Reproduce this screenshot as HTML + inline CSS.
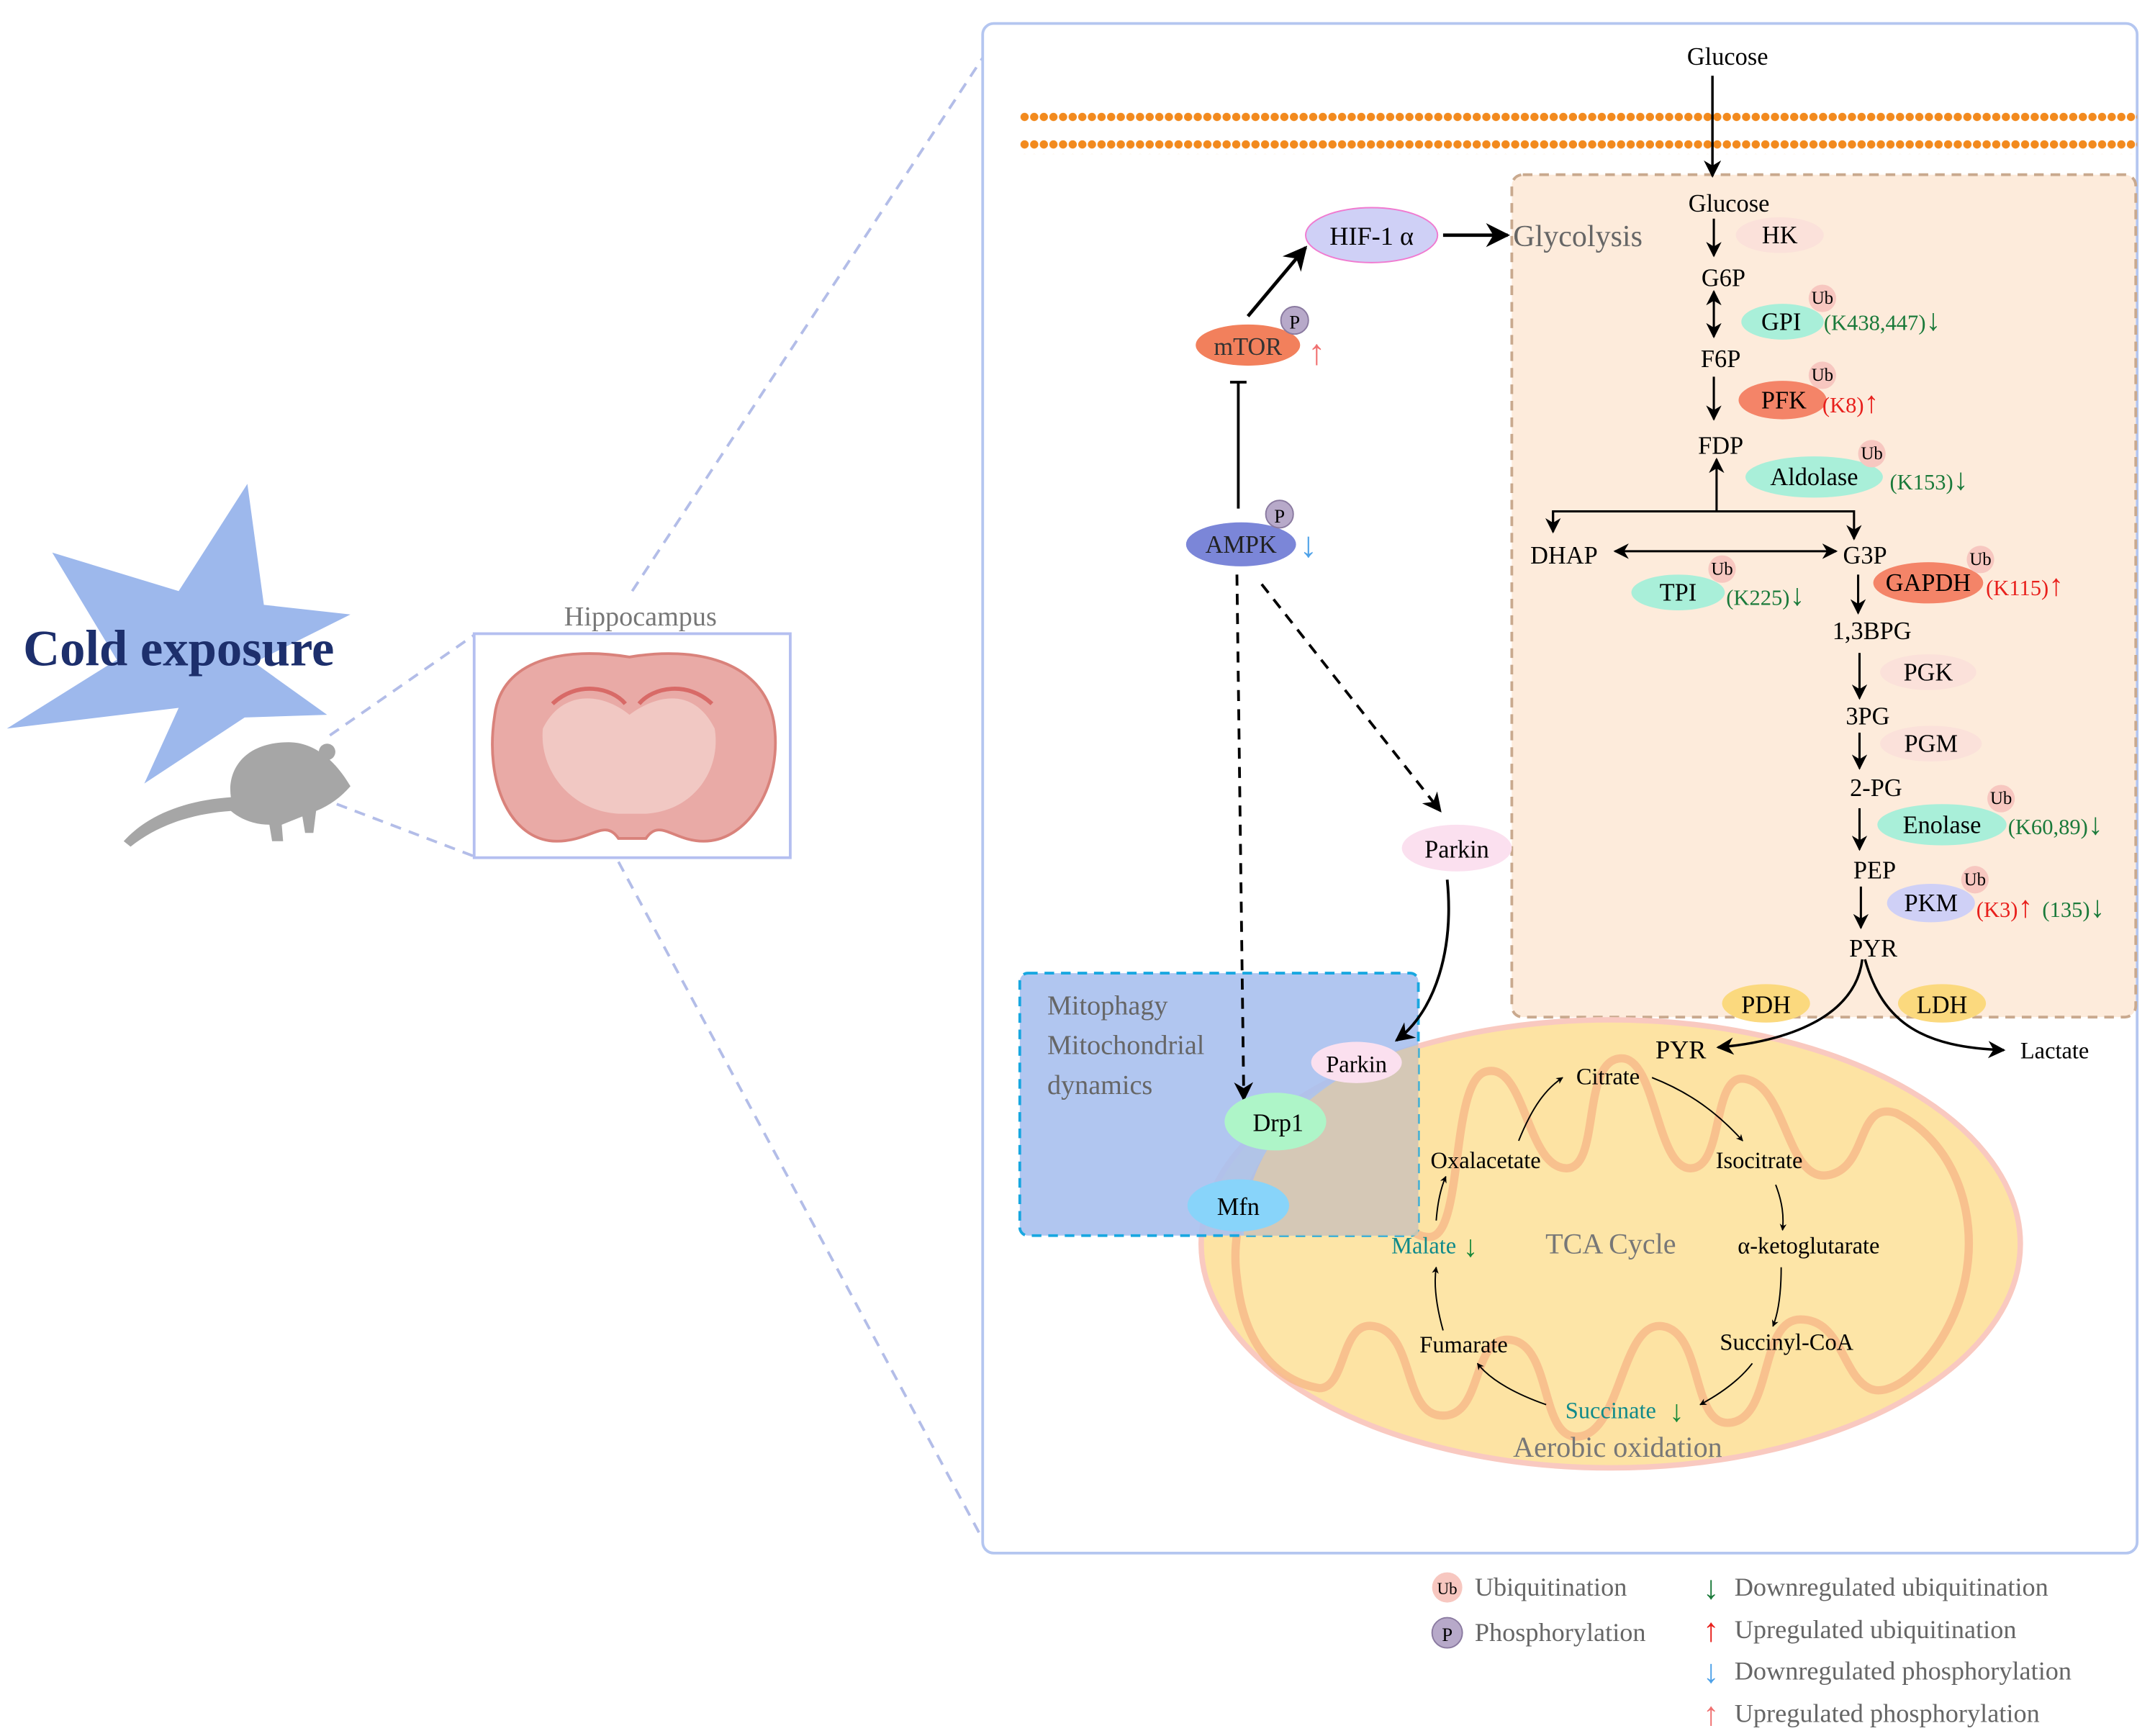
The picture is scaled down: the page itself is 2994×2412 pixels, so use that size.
<!DOCTYPE html>
<html><head><meta charset="utf-8"><style>
html,body{margin:0;padding:0;background:#fff}
svg{display:block}
text{font-family:"Liberation Serif",serif}
</style></head><body>
<svg width="2994" height="2412" viewBox="0 0 1568 1263" xmlns="http://www.w3.org/2000/svg">
<defs>
<marker id="ah" viewBox="0 0 10 10" refX="9" refY="5" markerWidth="7" markerHeight="7" orient="auto-start-reverse"><path d="M0,0 L10,5 L0,10 L3,5 z" fill="#000"/></marker>
<marker id="as" viewBox="0 0 10 10" refX="9" refY="5" markerWidth="5" markerHeight="5" orient="auto-start-reverse"><path d="M0,0 L10,5 L0,10 L3,5 z" fill="#000"/></marker>
<pattern id="dots" width="7" height="10" patternUnits="userSpaceOnUse"><circle cx="3.5" cy="5" r="3" fill="#f28a1e"/></pattern>
</defs>

<!-- left side -->
<polygon points="180,352 192,440 255,447 185,482 238,520 178,522 105,570 130,515 5,530 85,480 38,402 130,430" fill="#9db8ec"/>
<text x="130" y="484" font-size="37" font-weight="bold" fill="#1d2f6c" text-anchor="middle">Cold exposure</text>
<path d="M90,612 C110,590 140,582 168,580 C165,560 178,540 210,540 C230,540 245,555 255,572 C248,580 240,586 230,590 L228,606 L222,606 L220,594 L205,600 L206,612 L198,612 L196,600 C185,600 175,596 168,590 C140,592 115,600 95,616 Z" fill="#a6a6a6"/>
<circle cx="238" cy="547" r="6" fill="#a6a6a6"/>
<line x1="240" y1="535" x2="345" y2="462" stroke="#b3bde8" stroke-width="2" stroke-dasharray="8,6"/>
<line x1="245" y1="585" x2="345" y2="623" stroke="#b3bde8" stroke-width="2" stroke-dasharray="8,6"/>
<rect x="345" y="461" width="230" height="163" fill="#fff" stroke="#b4bff0" stroke-width="2"/>
<text x="466" y="455" font-size="20" fill="#777" text-anchor="middle">Hippocampus</text>
<path d="M360,520 C365,480 410,470 458,478 C505,470 555,480 563,525 C570,570 545,612 512,612 C490,612 480,595 470,610 L450,610 C440,595 430,612 405,612 C372,612 352,570 360,520 Z" fill="#e9aaa6" stroke="#d9827b" stroke-width="2"/>
<path d="M395,530 C410,500 440,505 458,520 C478,505 505,500 520,530 C525,560 505,590 470,592 L450,592 C415,590 392,560 395,530 Z" fill="#f1c8c3"/>
<path d="M402,512 C420,495 445,500 455,512 M465,512 C475,500 500,495 518,512" stroke="#d86a67" stroke-width="3" fill="none"/>
<line x1="460" y1="430" x2="715" y2="42" stroke="#b3bde8" stroke-width="2" stroke-dasharray="8,6"/>
<line x1="450" y1="627" x2="715" y2="1120" stroke="#b3bde8" stroke-width="2" stroke-dasharray="8,6"/>

<!-- main frame -->
<rect x="715" y="17" width="840" height="1113" rx="8" fill="#fff" stroke="#b4c6f0" stroke-width="2"/>
<rect x="742" y="80" width="813" height="10" fill="url(#dots)"/>
<rect x="742" y="102" width="813" height="10" fill="url(#dots)"/>

<rect x="1100" y="127" width="454" height="613" rx="8" fill="#fdebdb" stroke="#c9a98e" stroke-width="2" stroke-dasharray="7,5"/>
<text x="1257" y="47" font-size="18" text-anchor="middle">Glucose</text>
<line x1="1246" y1="55" x2="1246" y2="128" stroke="#000" stroke-width="1.8" marker-end="url(#ah)"/>
<text x="1101" y="179" font-size="22" fill="#666">Glycolysis</text>

<ellipse cx="998" cy="171" rx="48" ry="20" fill="#cfd0f6" stroke="#f07ad0" stroke-width="1"/>
<text x="998" y="178" font-size="19" text-anchor="middle">HIF-1 α</text>
<line x1="1050" y1="171" x2="1097" y2="171" stroke="#000" stroke-width="2.5" marker-end="url(#ah)"/>
<line x1="908" y1="230" x2="950" y2="180" stroke="#000" stroke-width="2.5" marker-end="url(#ah)"/>
<ellipse cx="908" cy="251" rx="38" ry="15" fill="#f2805c"/>
<text x="908" y="258" font-size="18" text-anchor="middle" fill="#333">mTOR</text>
<circle cx="942" cy="233" r="10" fill="#b7a9c9" stroke="#8a7aa0"/>
<text x="942" y="239" font-size="14" text-anchor="middle">P</text>
<text x="958" y="265" font-size="26" fill="#f07070" text-anchor="middle">↑</text>
<line x1="901" y1="370" x2="901" y2="278" stroke="#000" stroke-width="2"/>
<line x1="895" y1="278" x2="907" y2="278" stroke="#000" stroke-width="2"/>
<ellipse cx="903" cy="396" rx="40" ry="16" fill="#7b86d8"/>
<text x="903" y="402" font-size="18" text-anchor="middle" fill="#222">AMPK</text>
<circle cx="931" cy="374" r="10" fill="#b7a9c9" stroke="#8a7aa0"/>
<text x="931" y="380" font-size="14" text-anchor="middle">P</text>
<text x="952" y="405" font-size="26" fill="#4fa2e8" text-anchor="middle">↓</text>
<line x1="918" y1="425" x2="1048" y2="590" stroke="#000" stroke-width="2" stroke-dasharray="8,6" marker-end="url(#ah)"/>
<ellipse cx="1060" cy="617" rx="40" ry="17" fill="#fbe0ef"/>
<text x="1060" y="624" font-size="18" text-anchor="middle">Parkin</text>

<!-- mitochondrion -->
<ellipse cx="1172" cy="905" rx="298" ry="163" fill="#fde3a3" stroke="#f9c9c0" stroke-width="4"/>
<path d="M900,930 C890,860 950,800 990,780 L1010,790 C1010,840 1010,900 1040,900 C1065,900 1055,790 1080,780 C1110,770 1110,850 1140,850 C1165,850 1150,770 1180,770 C1205,770 1205,850 1230,850 C1255,850 1245,780 1270,785 C1300,790 1300,860 1330,855 C1360,850 1350,800 1380,810 C1420,830 1440,880 1430,930 C1420,980 1380,1020 1360,1010 C1340,1000 1340,960 1310,960 C1280,960 1290,1030 1260,1035 C1230,1040 1240,970 1210,965 C1180,960 1180,1040 1150,1045 C1120,1050 1130,980 1100,975 C1070,970 1080,1030 1050,1030 C1020,1030 1030,970 1000,965 C975,960 980,1010 960,1010 C930,1005 905,980 900,930 Z" fill="#fee6a8" stroke="#f8b98a" stroke-width="6" opacity="0.8"/>
<rect x="742" y="708" width="290" height="191" rx="6" fill="#a8c0ee" fill-opacity="0.9" stroke="#18a7e0" stroke-width="2" stroke-dasharray="7,5"/>
<path d="M905,899 C905,830 960,780 1032,760 L1032,899 Z" fill="#d9c9b0" opacity="0.9"/>
<text x="762" y="738" font-size="20" fill="#666">Mitophagy</text>
<text x="762" y="767" font-size="20" fill="#666">Mitochondrial</text>
<text x="762" y="796" font-size="20" fill="#666">dynamics</text>
<line x1="900" y1="418" x2="905" y2="800" stroke="#000" stroke-width="2" stroke-dasharray="8,6" marker-end="url(#ah)"/>
<path d="M1053,640 C1058,690 1045,735 1016,757" stroke="#000" stroke-width="2" fill="none" marker-end="url(#ah)"/>
<ellipse cx="987" cy="773" rx="33" ry="15" fill="#fbe0ef"/>
<text x="987" y="780" font-size="17" text-anchor="middle">Parkin</text>
<ellipse cx="928" cy="816" rx="37" ry="21" fill="#aef5c8"/>
<text x="930" y="823" font-size="18" text-anchor="middle">Drp1</text>
<ellipse cx="901" cy="877" rx="37" ry="19" fill="#88d4fa"/>
<text x="901" y="884" font-size="18" text-anchor="middle">Mfn</text>

<!-- TCA -->
<text x="1223" y="770" font-size="19" text-anchor="middle">PYR</text>
<text x="1170" y="789" font-size="17" text-anchor="middle">Citrate</text>
<text x="1280" y="850" font-size="17" text-anchor="middle">Isocitrate</text>
<text x="1316" y="912" font-size="17" text-anchor="middle">α-ketoglutarate</text>
<text x="1300" y="982" font-size="17" text-anchor="middle">Succinyl-CoA</text>
<text x="1172" y="1032" font-size="17" text-anchor="middle" fill="#108a8a">Succinate</text>
<text x="1220" y="1034" font-size="22" fill="#1a8a3a" text-anchor="middle">↓</text>
<text x="1065" y="984" font-size="17" text-anchor="middle">Fumarate</text>
<text x="1036" y="912" font-size="17" text-anchor="middle" fill="#108a8a">Malate</text>
<text x="1070" y="914" font-size="22" fill="#1a8a3a" text-anchor="middle">↓</text>
<text x="1081" y="850" font-size="17" text-anchor="middle">Oxalacetate</text>
<text x="1172" y="912" font-size="21" text-anchor="middle" fill="#777">TCA Cycle</text>
<text x="1177" y="1060" font-size="21" text-anchor="middle" fill="#777">Aerobic oxidation</text>
<g stroke="#000" stroke-width="1" fill="none" marker-end="url(#as)">
<path d="M1105,830 C1115,805 1125,792 1137,784"/>
<path d="M1202,784 C1230,795 1250,810 1268,830"/>
<path d="M1292,862 C1297,875 1298,885 1297,895"/>
<path d="M1296,922 C1296,940 1294,955 1290,965"/>
<path d="M1275,992 C1265,1005 1250,1015 1237,1022"/>
<path d="M1125,1022 C1105,1015 1085,1005 1075,992"/>
<path d="M1050,968 C1045,950 1043,935 1045,922"/>
<path d="M1045,888 C1046,875 1048,865 1052,856"/>
</g>
<path d="M1355,698 C1350,740 1300,758 1250,762" stroke="#000" stroke-width="1.8" fill="none" marker-end="url(#ah)"/>
<path d="M1357,698 C1370,745 1400,762 1458,764" stroke="#000" stroke-width="1.8" fill="none" marker-end="url(#ah)"/>
<text x="1495" y="770" font-size="17" text-anchor="middle">Lactate</text>
<ellipse cx="1285" cy="730" rx="32" ry="14" fill="#fbd97e"/>
<text x="1285" y="737" font-size="18" text-anchor="middle">PDH</text>
<ellipse cx="1413" cy="730" rx="32" ry="14" fill="#fbd97e"/>
<text x="1413" y="737" font-size="18" text-anchor="middle">LDH</text>

<g font-size="18" text-anchor="middle">
<text x="1258" y="154">Glucose</text>
<text x="1254" y="208">G6P</text>
<text x="1252" y="267">F6P</text>
<text x="1252" y="330">FDP</text>
<text x="1138" y="410">DHAP</text>
<text x="1357" y="410">G3P</text>
<text x="1362" y="465">1,3BPG</text>
<text x="1359" y="527">3PG</text>
<text x="1365" y="579">2-PG</text>
<text x="1364" y="639">PEP</text>
<text x="1363" y="696">PYR</text>
</g>
<g stroke="#000" stroke-width="1.6" fill="none">
<line x1="1247" y1="159" x2="1247" y2="186" marker-end="url(#ah)"/>
<line x1="1247" y1="212" x2="1247" y2="245" marker-end="url(#ah)" marker-start="url(#ah)"/>
<line x1="1247" y1="274" x2="1247" y2="305" marker-end="url(#ah)"/>
<line x1="1249" y1="372" x2="1249" y2="334" marker-end="url(#ah)"/>
<polyline points="1130,385 1130,372 1349,372 1349,392" marker-end="url(#ah)"/>
<line x1="1130" y1="372" x2="1130" y2="387" marker-end="url(#ah)"/>
<line x1="1175" y1="401" x2="1336" y2="401" marker-end="url(#ah)" marker-start="url(#ah)"/>
<line x1="1352" y1="418" x2="1352" y2="446" marker-end="url(#ah)"/>
<line x1="1353" y1="475" x2="1353" y2="508" marker-end="url(#ah)"/>
<line x1="1353" y1="533" x2="1353" y2="559" marker-end="url(#ah)"/>
<line x1="1353" y1="588" x2="1353" y2="618" marker-end="url(#ah)"/>
<line x1="1354" y1="645" x2="1354" y2="675" marker-end="url(#ah)"/>
</g>
<g font-size="18" text-anchor="middle">
<ellipse cx="1295" cy="171" rx="32" ry="13" fill="#fbe1da"/><text x="1295" y="177">HK</text>
<ellipse cx="1297" cy="234" rx="30" ry="13" fill="#a9efd9"/><text x="1296" y="240">GPI</text>
<ellipse cx="1297" cy="291" rx="32" ry="14" fill="#f48468"/><text x="1298" y="297">PFK</text>
<ellipse cx="1320" cy="347" rx="50" ry="15" fill="#a9efd9"/><text x="1320" y="353">Aldolase</text>
<ellipse cx="1221" cy="431" rx="34" ry="13" fill="#a9efd9"/><text x="1221" y="437">TPI</text>
<ellipse cx="1403" cy="424" rx="40" ry="15" fill="#f48468"/><text x="1403" y="430">GAPDH</text>
<ellipse cx="1403" cy="489" rx="35" ry="13" fill="#fbe1da"/><text x="1403" y="495">PGK</text>
<ellipse cx="1405" cy="541" rx="37" ry="13" fill="#fbe1da"/><text x="1405" y="547">PGM</text>
<ellipse cx="1413" cy="600" rx="47" ry="15" fill="#a9efd9"/><text x="1413" y="606">Enolase</text>
<ellipse cx="1405" cy="657" rx="32" ry="14" fill="#cfd0f6"/><text x="1405" y="663">PKM</text>
</g>
<g font-size="13" text-anchor="middle">
<circle cx="1326" cy="217" r="10" fill="#f7c7c0"/><text x="1326" y="221">Ub</text>
<circle cx="1326" cy="273" r="10" fill="#f7c7c0"/><text x="1326" y="277">Ub</text>
<circle cx="1362" cy="330" r="10" fill="#f7c7c0"/><text x="1362" y="334">Ub</text>
<circle cx="1253" cy="414" r="10" fill="#f7c7c0"/><text x="1253" y="418">Ub</text>
<circle cx="1441" cy="407" r="10" fill="#f7c7c0"/><text x="1441" y="411">Ub</text>
<circle cx="1456" cy="581" r="10" fill="#f7c7c0"/><text x="1456" y="585">Ub</text>
<circle cx="1437" cy="640" r="10" fill="#f7c7c0"/><text x="1437" y="644">Ub</text>
</g>
<g font-size="16">
<text x="1327" y="240" fill="#1a7a3a">(K438,447)<tspan font-size="22">↓</tspan></text>
<text x="1326" y="300" fill="#e8201c">(K8)<tspan font-size="22">↑</tspan></text>
<text x="1375" y="356" fill="#1a7a3a">(K153)<tspan font-size="22">↓</tspan></text>
<text x="1256" y="440" fill="#1a7a3a">(K225)<tspan font-size="22">↓</tspan></text>
<text x="1445" y="433" fill="#e8201c">(K115)<tspan font-size="22">↑</tspan></text>
<text x="1461" y="607" fill="#1a7a3a">(K60,89)<tspan font-size="22">↓</tspan></text>
<text x="1438" y="667" fill="#e8201c">(K3)<tspan font-size="22">↑</tspan></text>
<text x="1486" y="667" fill="#1a7a3a">(135)<tspan font-size="22">↓</tspan></text>
</g>

<!-- legend -->
<circle cx="1053" cy="1155" r="11" fill="#f7c7c0"/><text x="1053" y="1160" font-size="12" text-anchor="middle">Ub</text>
<text x="1073" y="1161" font-size="19" fill="#666">Ubiquitination</text>
<circle cx="1053" cy="1188" r="11" fill="#b7a9c9" stroke="#8a7aa0"/><text x="1053" y="1194" font-size="14" text-anchor="middle">P</text>
<text x="1073" y="1194" font-size="19" fill="#666">Phosphorylation</text>
<text x="1245" y="1163" font-size="24" fill="#1a7a3a" text-anchor="middle">↓</text>
<text x="1262" y="1161" font-size="19" fill="#666">Downregulated ubiquitination</text>
<text x="1245" y="1194" font-size="24" fill="#e8201c" text-anchor="middle">↑</text>
<text x="1262" y="1192" font-size="19" fill="#666">Upregulated ubiquitination</text>
<text x="1245" y="1224" font-size="24" fill="#4fa2e8" text-anchor="middle">↓</text>
<text x="1262" y="1222" font-size="19" fill="#666">Downregulated phosphorylation</text>
<text x="1245" y="1255" font-size="24" fill="#f07070" text-anchor="middle">↑</text>
<text x="1262" y="1253" font-size="19" fill="#666">Upregulated phosphorylation</text>
</svg>
</body></html>
